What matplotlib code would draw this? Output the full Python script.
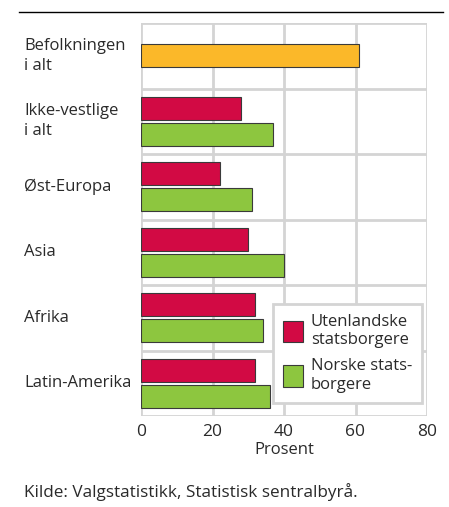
import matplotlib.pyplot as plt
import numpy as np
from matplotlib.lines import Line2D
from matplotlib.transforms import blended_transform_factory

plt.rcParams['font.family'] = ['Open Sans', 'DejaVu Sans']

categories = ['Befolkningen\ni alt', 'Ikke-vestlige\ni alt', 'Øst-Europa', 'Asia', 'Afrika', 'Latin-Amerika']
total = [61]
utenlandske = [28, 22, 30, 32, 32]
norske = [37, 31, 40, 34, 36]
xticks = [0, 20, 40, 60, 80]

orange = '#fbb829'
red = '#d20a44'
green = '#8dc63f'
grid = '#d4d4d4'
edge = '#3a3a3a'
txt = '#2a2a2a'

fig = plt.figure(figsize=(4.49, 5.07), dpi=100)
W, H = 449, 507
ax = fig.add_axes([141 / W, 1 - 416 / H, (427 - 141) / W, (416 - 23) / H])

n = len(categories)
ypos = np.arange(n)
bh = 0.35
off = 0.2

ax.barh(ypos[0], total, height=bh, color=orange, edgecolor=edge, linewidth=0.8, zorder=3)
ax.barh(ypos[1:] - off, utenlandske, height=bh, color=red, edgecolor=edge, linewidth=0.8,
        zorder=3, label='Utenlandske\nstatsborgere')
ax.barh(ypos[1:] + off, norske, height=bh, color=green, edgecolor=edge, linewidth=0.8,
        zorder=3, label='Norske stats-\nborgere')

ax.set_xlim(0, 80)
ax.set_ylim(n - 0.5, -0.5)
ax.set_xticks(xticks)
ax.set_xticklabels([str(v) for v in xticks], fontsize=12.5, color=txt)
ax.set_yticks([])
for v in xticks:
    ax.axvline(v, color=grid, linewidth=2, zorder=1)
for b in np.arange(-0.5, n):
    ax.axhline(b, color=grid, linewidth=2, zorder=1)
for s in ax.spines.values():
    s.set_visible(False)
ax.tick_params(axis='x', length=0, pad=6)
ax.set_xlabel('Prosent', fontsize=12, color=txt, labelpad=1)

# category labels, left aligned
trans = blended_transform_factory(fig.transFigure, ax.transData)
for i, c in enumerate(categories):
    ax.text(24 / W, i, c, transform=trans, ha='left', va='center', fontsize=12,
            color=txt, linespacing=1.35)

leg = ax.legend(loc='lower right', bbox_to_anchor=(0.9825, 0.034), bbox_transform=ax.transAxes,
                borderaxespad=0, fancybox=False, framealpha=1, edgecolor=grid, fontsize=12,
                handlelength=1.2, handleheight=1.6, handletextpad=0.45, labelspacing=0.6,
                borderpad=0.6)
leg.get_frame().set_linewidth(2)
for t in leg.get_texts():
    t.set_color(txt)
    t.set_linespacing(1.2)

fig.add_artist(Line2D([19 / W, 443 / W], [1 - 12 / H, 1 - 12 / H], color='black', linewidth=1))
fig.text(24 / W, 1 - 492 / H, 'Kilde: Valgstatistikk, Statistisk sentralbyrå.', fontsize=12.3,
         color=txt, va='center', ha='left')

fig.savefig('out.png', dpi=100)
